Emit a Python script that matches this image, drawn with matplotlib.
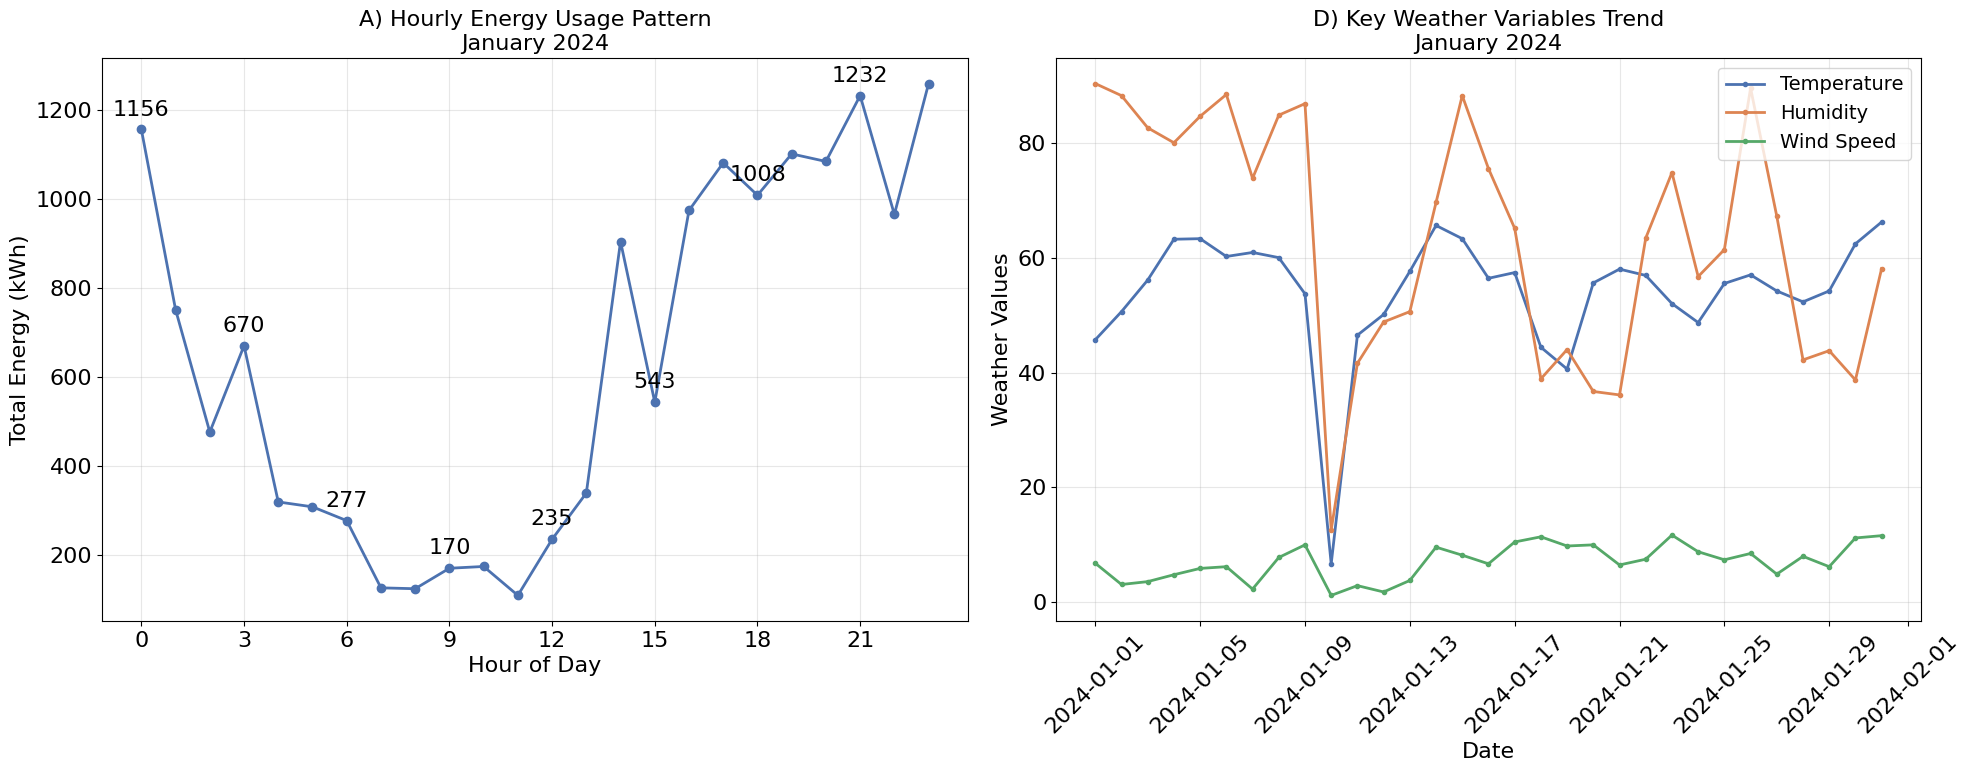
import matplotlib
matplotlib.use("Agg")
import matplotlib.pyplot as plt
import numpy as np
import pandas as pd

# ---- data ----
hours = list(range(24))
energy = [1156, 751, 476, 670, 319, 308, 277, 126, 124, 170, 174, 109,
          235, 339, 904, 543, 974, 1081, 1008, 1101, 1084, 1232, 965, 1259]
hour_ticks = list(range(0, 24, 3))

dates = pd.date_range("2024-01-01", "2024-01-31", freq="D")
temperature = [45.7, 50.6, 56.1, 63.2, 63.3, 60.2, 60.9, 60.0, 53.7, 6.7,
               46.5, 50.1, 57.6, 65.6, 63.3, 56.4, 57.4, 44.4, 40.6, 55.6,
               58.0, 56.9, 52.0, 48.7, 55.5, 57.0, 54.2, 52.3, 54.2, 62.4, 66.2]
humidity = [90.3, 88.2, 82.6, 80.0, 84.6, 88.4, 73.8, 84.8, 86.8, 12.6,
            41.6, 48.8, 50.6, 69.6, 88.2, 75.5, 65.1, 38.9, 44.0, 36.7,
            36.1, 63.4, 74.8, 56.7, 61.4, 89.5, 67.2, 42.2, 43.8, 38.7, 58.1]
wind_speed = [6.8, 3.1, 3.6, 4.8, 5.9, 6.2, 2.3, 7.8, 10.0, 1.2,
              2.9, 1.8, 3.8, 9.6, 8.2, 6.7, 10.5, 11.4, 9.8, 10.0,
              6.5, 7.5, 11.7, 8.8, 7.4, 8.5, 4.9, 8.0, 6.2, 11.2, 11.6]
annot_step = 3

BLUE = "#4C72B0"
ORANGE = "#DD8452"
GREEN = "#55A868"

fig = plt.figure(figsize=(19.69, 7.72), dpi=100)
ax1 = fig.add_axes([0.0518, 0.1956, 0.4398, 0.7293])
ax2 = fig.add_axes([0.5363, 0.1956, 0.4393, 0.7293])

TICK = 16
LABEL = 16
TITLE = 16

# ---- left panel ----
ax1.plot(hours, energy, marker="o", color=BLUE, linewidth=2, markersize=6)
for i in range(0, len(hours), annot_step):
    ax1.annotate(f"{energy[i]}", (hours[i], energy[i]), xytext=(0, 10),
                 textcoords="offset points", ha="center", fontsize=16)
ax1.set_title("A) Hourly Energy Usage Pattern\nJanuary 2024", fontsize=TITLE)
ax1.set_xlabel("Hour of Day", fontsize=LABEL)
ax1.set_ylabel("Total Energy (kWh)", fontsize=LABEL)
ax1.set_xticks(hour_ticks)
ax1.tick_params(labelsize=TICK)
ax1.grid(True, alpha=0.3)

# ---- right panel ----
ax2.plot(dates, temperature, marker="o", color=BLUE, linewidth=2, markersize=3, label="Temperature")
ax2.plot(dates, humidity, marker="o", color=ORANGE, linewidth=2, markersize=3, label="Humidity")
ax2.plot(dates, wind_speed, marker="o", color=GREEN, linewidth=2, markersize=3, label="Wind Speed")
ax2.set_title("D) Key Weather Variables Trend\nJanuary 2024", fontsize=TITLE)
ax2.set_xlabel("Date", fontsize=LABEL)
ax2.set_ylabel("Weather Values", fontsize=LABEL)
ax2.tick_params(labelsize=TICK)
ax2.tick_params(axis="x", rotation=45)
ax2.grid(True, alpha=0.3)
ax2.legend(loc="upper right", fontsize=14)

fig.savefig("out.png", dpi=100)
